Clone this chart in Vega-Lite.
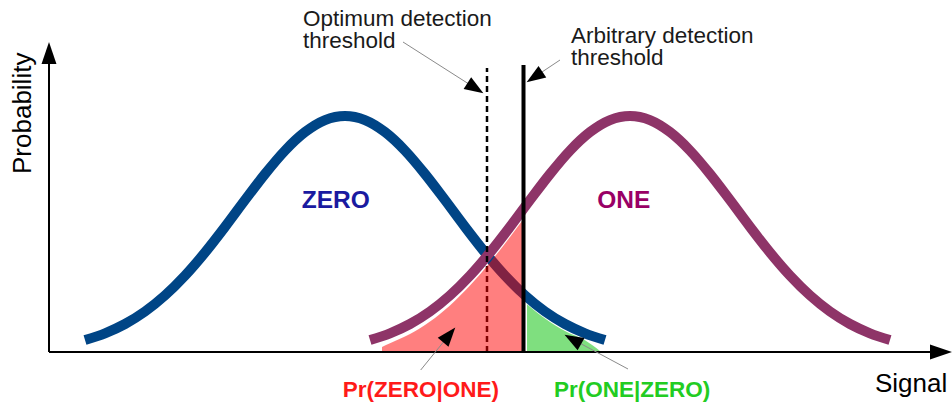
{
  "$schema": "https://vega.github.io/schema/vega-lite/v6.json",
  "width": 952,
  "height": 405,
  "padding": 0,
  "autosize": {"type": "none"},
  "config": {"view": {"stroke": null}, "font": "Liberation Sans"},
  "datasets": {
    "axes": [
      {"x": 1, "y": 0, "x2": 1, "y2": 300},
      {"x": 1, "y": 0, "x2": 890, "y2": 0}
    ],
    "axisHeads": [
      {"x": 1, "y": 299, "angle": 0},
      {"x": 893, "y": 0, "angle": 90}
    ],
    "curves": [
      {"series": "ZERO", "x": 37, "y": 12.0}, {"series": "ZERO", "x": 57, "y": 18.7}, {"series": "ZERO", "x": 77, "y": 28.0},
      {"series": "ZERO", "x": 97, "y": 40.5}, {"series": "ZERO", "x": 117, "y": 56.6}, {"series": "ZERO", "x": 137, "y": 76.4},
      {"series": "ZERO", "x": 157, "y": 99.5}, {"series": "ZERO", "x": 177, "y": 125.1}, {"series": "ZERO", "x": 197, "y": 151.9},
      {"series": "ZERO", "x": 217, "y": 178.0}, {"series": "ZERO", "x": 237, "y": 201.4}, {"series": "ZERO", "x": 257, "y": 219.9},
      {"series": "ZERO", "x": 277, "y": 231.9}, {"series": "ZERO", "x": 297, "y": 236.0}, {"series": "ZERO", "x": 317, "y": 231.9},
      {"series": "ZERO", "x": 337, "y": 219.9}, {"series": "ZERO", "x": 357, "y": 201.4}, {"series": "ZERO", "x": 377, "y": 178.0},
      {"series": "ZERO", "x": 397, "y": 151.9}, {"series": "ZERO", "x": 417, "y": 125.1}, {"series": "ZERO", "x": 437, "y": 99.5},
      {"series": "ZERO", "x": 457, "y": 76.4}, {"series": "ZERO", "x": 477, "y": 56.6}, {"series": "ZERO", "x": 497, "y": 40.5},
      {"series": "ZERO", "x": 517, "y": 28.0}, {"series": "ZERO", "x": 537, "y": 18.7}, {"series": "ZERO", "x": 557, "y": 12.0},
      {"series": "ONE", "x": 322, "y": 12.0}, {"series": "ONE", "x": 342, "y": 18.7}, {"series": "ONE", "x": 362, "y": 28.0},
      {"series": "ONE", "x": 382, "y": 40.5}, {"series": "ONE", "x": 402, "y": 56.6}, {"series": "ONE", "x": 422, "y": 76.4},
      {"series": "ONE", "x": 442, "y": 99.5}, {"series": "ONE", "x": 462, "y": 125.1}, {"series": "ONE", "x": 482, "y": 151.9},
      {"series": "ONE", "x": 502, "y": 178.0}, {"series": "ONE", "x": 522, "y": 201.4}, {"series": "ONE", "x": 542, "y": 219.9},
      {"series": "ONE", "x": 562, "y": 231.9}, {"series": "ONE", "x": 582, "y": 236.0}, {"series": "ONE", "x": 602, "y": 231.9},
      {"series": "ONE", "x": 622, "y": 219.9}, {"series": "ONE", "x": 642, "y": 201.4}, {"series": "ONE", "x": 662, "y": 178.0},
      {"series": "ONE", "x": 682, "y": 151.9}, {"series": "ONE", "x": 702, "y": 125.1}, {"series": "ONE", "x": 722, "y": 99.5},
      {"series": "ONE", "x": 742, "y": 76.4}, {"series": "ONE", "x": 762, "y": 56.6}, {"series": "ONE", "x": 782, "y": 40.5},
      {"series": "ONE", "x": 802, "y": 28.0}, {"series": "ONE", "x": 822, "y": 18.7}, {"series": "ONE", "x": 842, "y": 12.0}
    ],
    "optimum": [{"x": 439, "y": 0, "y2": 284}],
    "arbitrary": [{"x": 475.5, "y": 0, "y2": 287}],
    "redFill": [
      {"x": 334, "y": 5}, {"x": 342, "y": 8.7}, {"x": 362, "y": 18.0}, {"x": 382, "y": 30.5},
      {"x": 402, "y": 46.6}, {"x": 422, "y": 66.4}, {"x": 442, "y": 89.5}, {"x": 462, "y": 115.1},
      {"x": 474, "y": 131}
    ],
    "greenFill": [
      {"x": 479, "y": 47.8}, {"x": 497, "y": 33.5}, {"x": 517, "y": 21.0}, {"x": 537, "y": 11.7},
      {"x": 552, "y": 1}
    ],
    "pointers": [
      {"x": 355, "y": 310, "x2": 427.4, "y2": 263.8},
      {"x": 512, "y": 292, "x2": 486.5, "y2": 275},
      {"x": 372.7, "y": -18, "x2": 401.2, "y2": 17.1},
      {"x": 580, "y": -17, "x2": 524.8, "y2": 12.6}
    ],
    "pointerHeads": [
      {"x": 427.4, "y": 263.8, "angle": 122.5},
      {"x": 486.5, "y": 275, "angle": 236.3},
      {"x": 401.2, "y": 17.1, "angle": 39.8},
      {"x": 524.8, "y": 12.6, "angle": 299.6}
    ],
    "notes": [
      {"x": 255, "y": 326, "t": "Optimum detection\nthreshold"},
      {"x": 523, "y": 309.3, "t": "Arbitrary detection\nthreshold"}
    ],
    "signalLabel": [{"x": 827, "y": -40, "t": "Signal"}],
    "probLabel": [{"x": -17.5, "y": 178, "t": "Probability"}],
    "zeroLabel": [{"x": 253.7, "y": 144.3, "t": "ZERO"}],
    "oneLabel": [{"x": 549.3, "y": 144.3, "t": "ONE"}],
    "prZero": [{"x": 294.7, "y": -44.7, "t": "Pr(ZERO|ONE)"}],
    "prOne": [{"x": 506, "y": -44.7, "t": "Pr(ONE|ZERO)"}]
  },
  "encoding": {
    "x": {"field": "x", "type": "quantitative", "scale": {"domain": [-48, 904], "nice": false, "zero": false}, "axis": null},
    "y": {"field": "y", "type": "quantitative", "scale": {"domain": [-53, 352], "nice": false, "zero": false}, "axis": null}
  },
  "layer": [
    {
      "data": {"name": "curves"},
      "mark": {"type": "line", "strokeWidth": 10, "interpolate": "monotone", "strokeCap": "butt"},
      "encoding": {
        "color": {"field": "series", "type": "nominal", "scale": {"domain": ["ZERO", "ONE"], "range": ["#004586", "#8e3468"]}, "legend": null},
        "order": {"field": "x", "type": "quantitative"}
      }
    },
    {
      "data": {"name": "optimum"},
      "mark": {"type": "rule", "color": "#000000", "strokeWidth": 2.5, "strokeDash": [6, 4]},
      "encoding": {"y2": {"field": "y2"}}
    },
    {
      "data": {"name": "redFill"},
      "mark": {"type": "area", "color": "#ff0000", "opacity": 0.5, "interpolate": "monotone"},
      "encoding": {"y2": {"datum": 0}}
    },
    {
      "data": {"name": "greenFill"},
      "mark": {"type": "area", "color": "#00c000", "opacity": 0.5, "interpolate": "monotone"},
      "encoding": {"y2": {"datum": 0}}
    },
    {
      "data": {"name": "arbitrary"},
      "mark": {"type": "rule", "color": "#000000", "strokeWidth": 4},
      "encoding": {"y2": {"field": "y2"}}
    },
    {
      "data": {"name": "axes"},
      "mark": {"type": "rule", "color": "#000000", "strokeWidth": 2},
      "encoding": {"x2": {"field": "x2"}, "y2": {"field": "y2"}}
    },
    {
      "data": {"name": "axisHeads"},
      "mark": {"type": "point", "filled": true, "opacity": 1, "color": "#000000", "size": 484, "shape": "M0,-1L0.68,1L-0.68,1Z", "strokeWidth": 0},
      "encoding": {"angle": {"field": "angle", "type": "quantitative", "scale": null}}
    },
    {
      "data": {"name": "pointers"},
      "mark": {"type": "rule", "color": "#8a8a8a", "strokeWidth": 1},
      "encoding": {"x2": {"field": "x2"}, "y2": {"field": "y2"}}
    },
    {
      "data": {"name": "pointerHeads"},
      "mark": {"type": "point", "filled": true, "opacity": 1, "color": "#000000", "size": 361, "shape": "M0,-1L0.737,1L-0.737,1Z", "strokeWidth": 0},
      "encoding": {"angle": {"field": "angle", "type": "quantitative", "scale": null}}
    },
    {
      "data": {"name": "notes"},
      "mark": {"type": "text", "align": "left", "baseline": "alphabetic", "fontSize": 22.5, "lineHeight": 22, "lineBreak": "\n", "color": "#1a1a1a", "font": "Liberation Sans"},
      "encoding": {"text": {"field": "t"}}
    },
    {
      "data": {"name": "signalLabel"},
      "mark": {"type": "text", "align": "left", "baseline": "alphabetic", "fontSize": 26, "color": "#000000", "font": "Liberation Sans"},
      "encoding": {"text": {"field": "t"}}
    },
    {
      "data": {"name": "probLabel"},
      "mark": {"type": "text", "align": "left", "baseline": "alphabetic", "fontSize": 26, "angle": 270, "color": "#000000", "font": "Liberation Sans"},
      "encoding": {"text": {"field": "t"}}
    },
    {
      "data": {"name": "zeroLabel"},
      "mark": {"type": "text", "align": "left", "baseline": "alphabetic", "fontSize": 24.5, "fontWeight": "bold", "color": "#1a1aa0", "font": "Liberation Sans"},
      "encoding": {"text": {"field": "t"}}
    },
    {
      "data": {"name": "oneLabel"},
      "mark": {"type": "text", "align": "left", "baseline": "alphabetic", "fontSize": 24.5, "fontWeight": "bold", "color": "#990066", "font": "Liberation Sans"},
      "encoding": {"text": {"field": "t"}}
    },
    {
      "data": {"name": "prZero"},
      "mark": {"type": "text", "align": "left", "baseline": "alphabetic", "fontSize": 22.5, "fontWeight": "bold", "color": "#ff1a1a", "font": "Liberation Sans"},
      "encoding": {"text": {"field": "t"}}
    },
    {
      "data": {"name": "prOne"},
      "mark": {"type": "text", "align": "left", "baseline": "alphabetic", "fontSize": 22.5, "fontWeight": "bold", "color": "#22cc22", "font": "Liberation Sans"},
      "encoding": {"text": {"field": "t"}}
    }
  ]
}
